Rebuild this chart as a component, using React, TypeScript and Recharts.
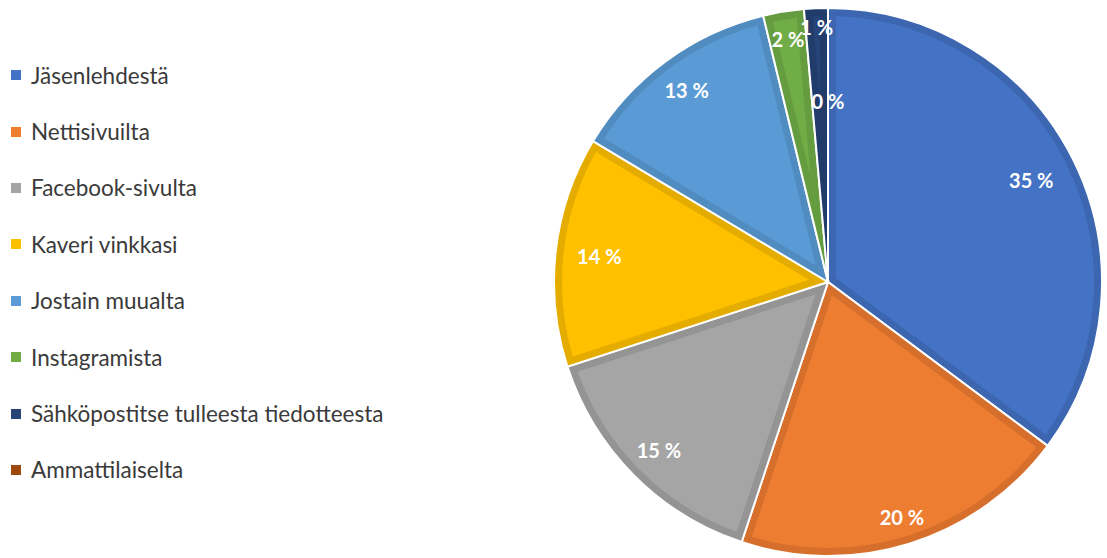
import { PieChart, Pie, Cell } from 'recharts';

const categories = [
    'Jäsenlehdestä',
    'Nettisivuilta',
    'Facebook-sivulta',
    'Kaveri vinkkasi',
    'Jostain muualta',
    'Instagramista',
    'Sähköpostitse tulleesta tiedotteesta',
    'Ammattilaiselta',
];

const shares = [35.2, 19.9, 14.9, 13.6, 12.6, 2.4, 1.4, 0];

const fills = ['#4472C4', '#ED7D31', '#A5A5A5', '#FFC000', '#5B9BD5', '#70AD47', '#264478', '#9E480E'];
const edges = ['#3D66B0', '#D56F2B', '#949494', '#E5AC00', '#518CC0', '#649C3F', '#213C6B', '#8E400C'];

// where Excel put each label, as a fraction of the radius
const labelRadius = [0.83, 0.9, 0.87, 0.84, 0.87, 0.9, 0.93, 0.66];

const data = categories.map((name, i) => ({ name, value: shares[i] }));

const RAD = Math.PI / 180;
const BORDER = 8;
const FONT = "Lato, 'Open Sans', sans-serif";

const pt = (cx: number, cy: number, r: number, a: number) => [
    cx + r * Math.cos(-a * RAD),
    cy + r * Math.sin(-a * RAD),
];

// the lighter inner part of a slice, inset by BORDER from every edge
const insetPath = (cx: number, cy: number, R: number, start: number, end: number) => {
    const span = start - end;
    if (span <= 0) return null;
    const apex = BORDER / Math.sin((span / 2) * RAD);
    const r = R - BORDER;
    const off = Math.asin(BORDER / r) / RAD;
    const a1 = start - off;
    const a2 = end + off;
    if (a1 <= a2 || apex >= r) return null;
    const mid = (start + end) / 2;
    const [ax, ay] = pt(cx, cy, apex, mid);
    const [x1, y1] = pt(cx, cy, r, a1);
    const [x2, y2] = pt(cx, cy, r, a2);
    const large = a1 - a2 > 180 ? 1 : 0;
    return `M${ax},${ay} L${x1},${y1} A${r},${r} 0 ${large} 1 ${x2},${y2} Z`;
};

const renderInset = (props: any) => {
    const { cx, cy, outerRadius, startAngle, endAngle, index } = props;
    const d = insetPath(cx, cy, outerRadius, startAngle, endAngle);
    if (!d) return <g key={`in-${index}`} />;
    return <path key={`in-${index}`} d={d} fill={fills[index]} stroke="none" />;
};

const renderPercent = (props: any) => {
    const { cx, cy, outerRadius, midAngle, percent, index } = props;
    const [x, y] = pt(cx, cy, outerRadius * labelRadius[index], midAngle);
    return (
        <text
            key={`lbl-${index}`}
            x={x}
            y={y}
            fill="#FFFFFF"
            textAnchor="middle"
            dominantBaseline="central"
            fontFamily={FONT}
            fontWeight={700}
            fontSize={20}
        >
            {`${Math.round(percent * 100)} %`}
        </text>
    );
};

const LegendList = () => (
    <div
        style={{
            position: 'absolute',
            left: 11,
            top: 47,
            fontFamily: FONT,
            fontSize: 22.5,
            color: '#3A3A3A',
            whiteSpace: 'nowrap',
        }}
    >
        {categories.map((name, i) => (
            <div key={name} style={{ height: 56.4, display: 'flex', alignItems: 'center' }}>
                <span
                    style={{
                        display: 'inline-block',
                        width: 10,
                        height: 10,
                        background: fills[i],
                        marginRight: 10,
                    }}
                />
                {name}
            </div>
        ))}
    </div>
);

export default function App() {
    return (
        <div style={{ position: 'absolute', left: 0, top: 0, width: 1107, height: 558, background: '#fff' }}>
            <LegendList />
            <PieChart
                width={1107}
                height={558}
                margin={{ top: 0, right: 0, bottom: 0, left: 0 }}
                style={{ position: 'absolute', left: 0, top: 0 }}
            >
                <Pie
                    data={data}
                    dataKey="value"
                    nameKey="name"
                    cx={828}
                    cy={282}
                    outerRadius={274}
                    startAngle={90}
                    endAngle={-270}
                    stroke="#FFFFFF"
                    strokeWidth={2}
                    label={renderInset}
                    labelLine={false}
                    isAnimationActive={false}
                >
                    {data.map((d, i) => (
                        <Cell key={d.name} fill={edges[i]} />
                    ))}
                </Pie>
                <Pie
                    data={data}
                    dataKey="value"
                    nameKey="name"
                    cx={828}
                    cy={282}
                    outerRadius={274}
                    startAngle={90}
                    endAngle={-270}
                    fill="none"
                    stroke="none"
                    label={renderPercent}
                    labelLine={false}
                    isAnimationActive={false}
                />
            </PieChart>
        </div>
    );
}
